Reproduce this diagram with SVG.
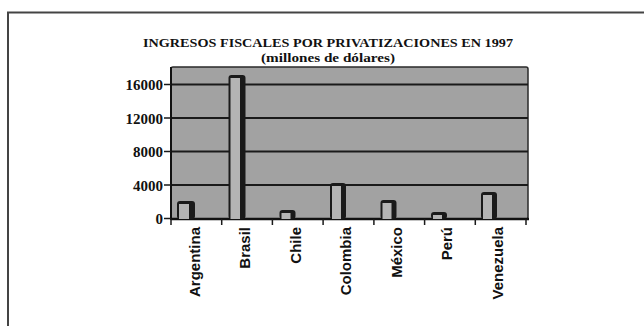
<svg xmlns="http://www.w3.org/2000/svg" width="644" height="326" viewBox="0 0 644 326">
<defs>
<style>
.title{font-family:"Liberation Serif","Times New Roman",serif;font-weight:bold;fill:#111}
.ylab{font-family:"Liberation Serif","Times New Roman",serif;font-weight:bold;font-size:15px;fill:#111;text-anchor:end}
.xlab{font-family:"Liberation Sans",Arial,sans-serif;font-weight:bold;font-size:15px;fill:#111;text-anchor:end}
.grid{stroke:#1a1a1a;stroke-width:2;fill:none}
.tick{stroke:#1a1a1a;stroke-width:1.5;fill:none}
.barSide{fill:#1a1a1a}
.barFront{fill:#b4b4b4}
</style>
</defs>
<rect width="644" height="326" fill="#ffffff"/>
<path d="M8 340 V12.5 H660" fill="none" stroke="#444" stroke-width="2"/>
<g id="title">
<text class="title" x="328" y="46.5" font-size="12.5" text-anchor="middle" textLength="370" lengthAdjust="spacingAndGlyphs">INGRESOS FISCALES POR PRIVATIZACIONES EN 1997</text>
<text class="title" x="328" y="62" font-size="12" text-anchor="middle" textLength="134" lengthAdjust="spacingAndGlyphs">(millones de dólares)</text>
</g>
<g id="plot">
<rect x="171" y="67" width="357" height="152" rx="2" fill="#a2a2a2" stroke="#2a2a2a" stroke-width="1.5"/>
<line class="grid" x1="171" y1="84.5" x2="528" y2="84.5"/>
<line class="grid" x1="171" y1="118" x2="528" y2="118"/>
<line class="grid" x1="171" y1="151.5" x2="528" y2="151.5"/>
<line class="grid" x1="171" y1="185" x2="528" y2="185"/>
<line x1="171" y1="219" x2="529" y2="219" stroke="#111" stroke-width="2.5"/>
<line x1="171" y1="67" x2="171" y2="220" stroke="#111" stroke-width="2"/>
</g>
<g id="axes">
<path class="tick" d="M164 84.5H171M164 118H171M164 151.5H171M164 185H171M164 218.5H171"/>
<path class="tick" d="M171 219V225M221.7 219V225M272.4 219V225M323.1 219V225M373.9 219V225M424.6 219V225M475.3 219V225M526 219V225"/>
<text class="ylab" x="163" y="90">16000</text>
<text class="ylab" x="163" y="123.5">12000</text>
<text class="ylab" x="163" y="157">8000</text>
<text class="ylab" x="163" y="190.5">4000</text>
<text class="ylab" x="163" y="224">0</text>
</g>
<g id="bar-argentina">
<rect class="barSide" x="177" y="201" width="18" height="18" rx="3"/>
<rect class="barFront" x="179" y="204" width="10" height="15"/>
</g>
<g id="bar-brasil">
<rect class="barSide" x="228.5" y="75" width="17" height="144" rx="3"/>
<rect class="barFront" x="230.5" y="78" width="9.5" height="141"/>
</g>
<g id="bar-chile">
<rect class="barSide" x="279.5" y="210" width="16" height="9" rx="3"/>
<rect class="barFront" x="281.5" y="213" width="9" height="6"/>
</g>
<g id="bar-colombia">
<rect class="barSide" x="330" y="183" width="16" height="36" rx="3"/>
<rect class="barFront" x="332" y="186" width="9" height="33"/>
</g>
<g id="bar-mexico">
<rect class="barSide" x="380.5" y="200" width="16" height="19" rx="3"/>
<rect class="barFront" x="382.5" y="203" width="9" height="16"/>
</g>
<g id="bar-peru">
<rect class="barSide" x="431" y="212" width="16" height="7" rx="3"/>
<rect class="barFront" x="433" y="215" width="9" height="4"/>
</g>
<g id="bar-venezuela">
<rect class="barSide" x="481" y="192" width="16" height="27" rx="3"/>
<rect class="barFront" x="483" y="195" width="9" height="24"/>
</g>
<g id="categories">
<text class="xlab" transform="translate(199.5,227) rotate(-90)">Argentina</text>
<text class="xlab" transform="translate(250,227) rotate(-90)">Brasil</text>
<text class="xlab" transform="translate(300.5,227) rotate(-90)">Chile</text>
<text class="xlab" transform="translate(351,227) rotate(-90)">Colombia</text>
<text class="xlab" transform="translate(401.5,227) rotate(-90)">México</text>
<text class="xlab" transform="translate(452,227) rotate(-90)">Perú</text>
<text class="xlab" transform="translate(502.5,227) rotate(-90)">Venezuela</text>
</g>
</svg>
